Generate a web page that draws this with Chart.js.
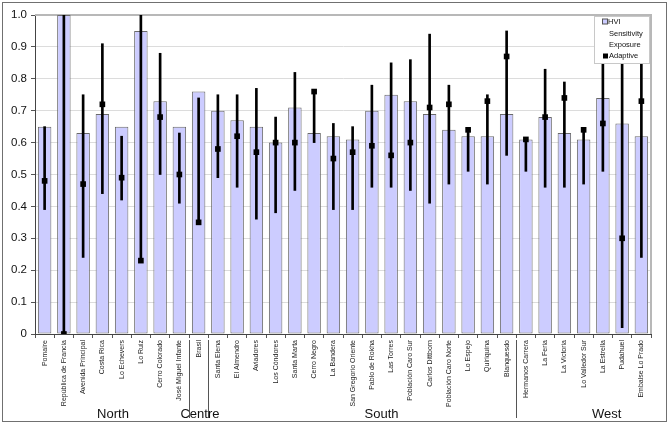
<!DOCTYPE html>
<html><head><meta charset="utf-8">
<script src="https://cdn.jsdelivr.net/npm/chart.js@4"></script>
<style>html,body{margin:0;padding:0;background:#fff}#wrap{width:670px;height:425px;position:relative}</style>
</head><body><div id="wrap"><canvas id="c" width="670" height="425"></canvas></div>
<script>
const categories = ['Pomaire','República de Francia','Avenida Principal','Costa Rica','Lo Echevers','Lo Ruiz','Cerro Colorado','José Miguel Infante','Brasil','Santa Elena','El Almendro','Aviadores','Los Cóndores','Santa Marta','Cerro Negro','La Bandera','San Gregorio Oriente','Pablo de Rokha','Las Torres','Población Caro Sur','Carlos Dittborn','Población Caro Norte','Lo Espejo','Quiriquina','Blanquesdo','Hermanos Carrera','La Feria','La Victoria','Lo Valledor Sur','La Estrella','Pudahuel','Embalse Lo Prado'];
const hvi =         [0.65,1.00,0.63,0.69,0.65,0.95,0.73,0.65,0.76,0.70,0.67,0.65,0.60,0.71,0.63,0.62,0.61,0.70,0.75,0.73,0.69,0.64,0.62,0.62,0.69,0.61,0.68,0.63,0.61,0.74,0.66,0.62];
const sensitivity = [0.65,1.00,0.75,0.91,0.62,1.00,0.88,0.63,0.74,0.75,0.75,0.77,0.68,0.82,0.76,0.66,0.65,0.78,0.85,0.86,0.94,0.78,0.64,0.75,0.95,0.61,0.83,0.79,0.64,0.90,0.95,0.90];
const exposure =    [0.39,0.00,0.24,0.44,0.42,0.23,0.50,0.41,0.35,0.49,0.46,0.36,0.38,0.45,0.60,0.39,0.39,0.46,0.46,0.45,0.41,0.47,0.51,0.47,0.56,0.51,0.46,0.46,0.47,0.51,0.02,0.24];
const adaptive =    [0.48,0.00,0.47,0.72,0.49,0.23,0.68,0.50,0.35,0.58,0.62,0.57,0.60,0.60,0.76,0.55,0.57,0.59,0.56,0.60,0.71,0.72,0.64,0.73,0.87,0.61,0.68,0.74,0.64,0.66,0.30,0.73];
const groupNames = ['North','Centre','South','West'];
const groupCentres = [3.55, 8.07, 17.5, 29.2];
const groupDividers = [7.5, 8.5, 24.5];

const FONT = '"Liberation Sans", Arial, sans-serif';

const framePlugin = {
  id: 'frame',
  beforeDraw(chart) {
    const ctx = chart.ctx;
    ctx.save();
    ctx.fillStyle = '#fff';
    ctx.fillRect(0, 0, chart.width, chart.height);
    ctx.strokeStyle = '#707070';
    ctx.lineWidth = 1;
    ctx.strokeRect(2.5, 2.5, 664, 419);
    ctx.restore();
  },
  beforeDatasetsDraw(chart) {
    const ctx = chart.ctx, a = chart.chartArea;
    ctx.save();
    ctx.strokeStyle = '#b8b8b8';
    ctx.lineWidth = 2;
    ctx.beginPath();
    ctx.moveTo(a.left, a.top); ctx.lineTo(a.right, a.top); ctx.lineTo(a.right, a.bottom);
    ctx.stroke();
    ctx.restore();
  },
  afterDraw(chart) {
    const ctx = chart.ctx, x = chart.scales.x, a = chart.chartArea;
    ctx.save();
    // group dividers
    ctx.strokeStyle = '#555';
    ctx.lineWidth = 1;
    groupDividers.forEach(d => {
      const px = Math.round(x.getPixelForValue(d)) + 0.5;
      ctx.beginPath(); ctx.moveTo(px, a.bottom + 6); ctx.lineTo(px, 418); ctx.stroke();
    });
    // group labels
    ctx.fillStyle = '#111';
    ctx.font = '13px ' + FONT;
    ctx.textAlign = 'center';
    ctx.textBaseline = 'alphabetic';
    groupNames.forEach((g, i) => {
      ctx.fillText(g, x.getPixelForValue(groupCentres[i]), 418);
    });
    // legend
    const lx = 594.5, ly = 16.5, lw = 55, lh = 47;
    ctx.fillStyle = '#fff';
    ctx.fillRect(lx - 0.5, ly - 0.5, lw + 1, lh + 1);
    ctx.strokeStyle = '#c8c8c8';
    ctx.lineWidth = 1;
    ctx.strokeRect(lx, ly, lw, lh);
    ctx.font = '7.5px ' + FONT;
    ctx.textAlign = 'left';
    ctx.textBaseline = 'middle';
    const rows = [21.5, 33.5, 44.5, 56];
    chart.data.datasets.forEach((ds, i) => {
      const y = rows[i];
      if (i === 0) {
        ctx.fillStyle = '#ccccff'; ctx.fillRect(602.5, y - 2.5, 5, 5);
        ctx.strokeStyle = '#555'; ctx.strokeRect(602.5, y - 2.5, 5, 5);
      } else if (i === 3) {
        ctx.fillStyle = '#000'; ctx.fillRect(603, y - 2.5, 5, 5);
      }
      ctx.fillStyle = '#111';
      ctx.fillText(ds.label, i === 0 ? 608 : 609, y);
    });
    ctx.restore();
  }
};

const rangeData = sensitivity.map((s, i) => [Math.min(s, exposure[i]), Math.max(s, exposure[i])]);

new Chart(document.getElementById('c'), {
  data: {
    labels: categories,
    datasets: [
      { type: 'bar', label: 'HVI', data: hvi, backgroundColor: '#ccccff', borderColor: '#6a6a6a', borderWidth: 1, borderSkipped: false, barPercentage: 0.7, categoryPercentage: 1, grouped: false, order: 3 },
      { type: 'bar', label: 'Sensitivity', data: rangeData, backgroundColor: '#000', borderWidth: 0, barThickness: 2, grouped: false, order: 2 },
      { type: 'line', label: 'Exposure', data: exposure, showLine: false, pointRadius: 0, order: 2 },
      { type: 'line', label: 'Adaptive', data: adaptive, showLine: false, pointStyle: 'rect', pointRadius: 4, pointBackgroundColor: '#000', pointBorderColor: '#000', pointBorderWidth: 0, order: 1 }
    ]
  },
  options: {
    responsive: false,
    animation: false,
    events: [],
    layout: { padding: { top: 15, right: 19, left: 0, bottom: 0 } },
    plugins: { legend: { display: false }, tooltip: { enabled: false } },
    scales: {
      x: {
        type: 'category',
        offset: true,
        afterFit(s) { s.height = 91; },
        grid: { display: true, offset: true, drawOnChartArea: false, drawTicks: true, tickLength: 4, tickColor: '#555' },
        border: { display: true, color: '#444', width: 1 },
        ticks: { autoSkip: false, maxRotation: 90, minRotation: 90, padding: 2, color: '#222', font: { family: FONT, size: 7 } }
      },
      y: {
        min: 0, max: 1,
        afterFit(s) { s.width = 35; },
        grid: { color: '#dcdcdc', lineWidth: 1, tickLength: 4, tickColor: '#555', drawTicks: true },
        border: { display: true, color: '#444', width: 1 },
        ticks: { stepSize: 0.1, padding: 4, color: '#111', font: { family: FONT, size: 11.5 } }
      }
    }
  },
  plugins: [framePlugin]
});
</script></body></html>
